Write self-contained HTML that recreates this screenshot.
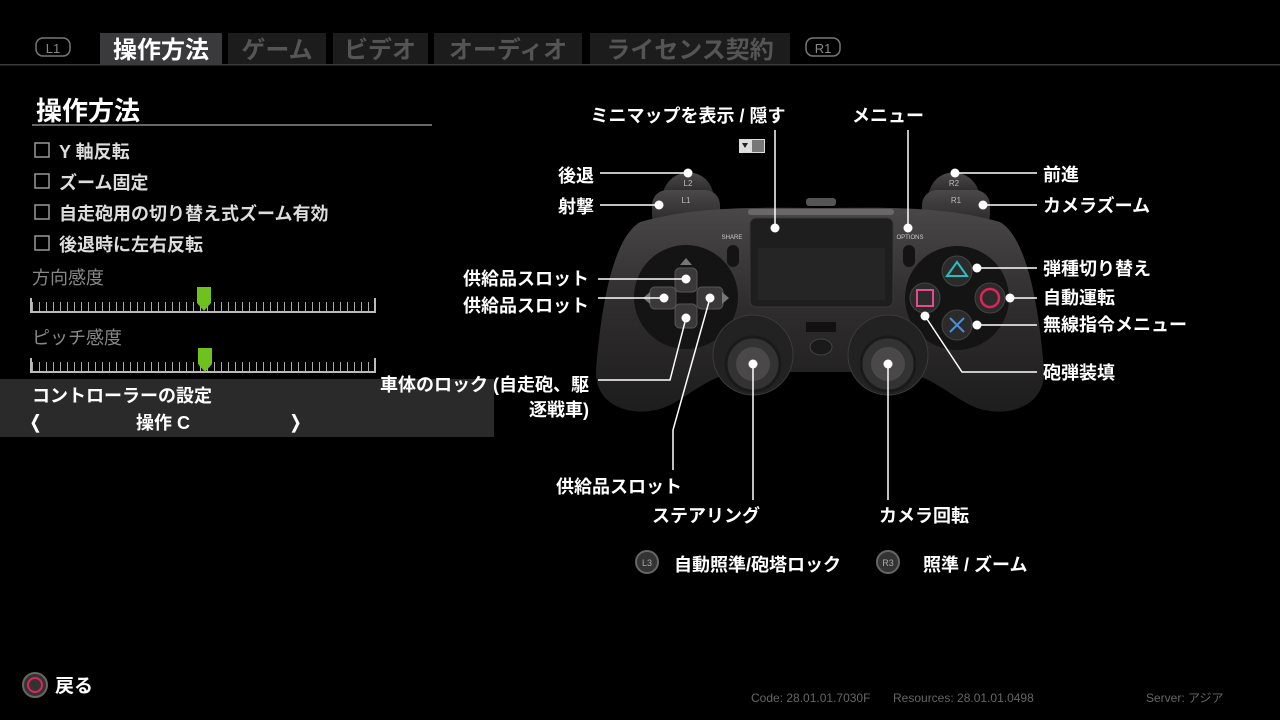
<!DOCTYPE html>
<html><head><meta charset="utf-8"><style>
html,body{margin:0;padding:0;background:#000;}
svg{display:block;}
text{font-family:"Liberation Sans","Noto Sans CJK JP",sans-serif;}
</style></head><body>
<svg width="1280" height="720" viewBox="0 0 1280 720" xmlns="http://www.w3.org/2000/svg">
<defs>
<pattern id="tick" x="32" y="0" width="7" height="20" patternUnits="userSpaceOnUse"><rect x="0" y="0" width="1" height="20" fill="#aaa"/></pattern>
<linearGradient id="body" x1="0" y1="0" x2="0" y2="1"><stop offset="0" stop-color="#4a4748"/><stop offset="0.5" stop-color="#2e2c2d"/><stop offset="1" stop-color="#1e1d1e"/></linearGradient>
<linearGradient id="trig" x1="0" y1="0" x2="0" y2="1"><stop offset="0" stop-color="#4a4849"/><stop offset="1" stop-color="#252425"/></linearGradient>
</defs>
<rect width="1280" height="720" fill="#000"/>
<!-- tabs -->
<rect x="0" y="64" width="1280" height="1.5" fill="#3a3a3a"/>
<rect x="36" y="38" width="34" height="18" rx="7" fill="none" stroke="#777" stroke-width="1.5"/>
<text x="53" y="53" font-size="13" fill="#888" text-anchor="middle">L1</text>
<rect x="100" y="33" width="122" height="31" fill="#3a3a3c"/>
<text x="161" y="58" font-size="24" font-weight="bold" fill="#fff" text-anchor="middle">操作方法</text>
<rect x="228" y="33" width="98" height="31" fill="#1c1c1c"/>
<text x="277" y="58" font-size="24" font-weight="bold" fill="#555" text-anchor="middle">ゲーム</text>
<rect x="333" y="33" width="95" height="31" fill="#1c1c1c"/>
<text x="380" y="58" font-size="24" font-weight="bold" fill="#555" text-anchor="middle">ビデオ</text>
<rect x="434" y="33" width="148" height="31" fill="#1c1c1c"/>
<text x="508" y="58" font-size="24" font-weight="bold" fill="#555" text-anchor="middle">オーディオ</text>
<rect x="590" y="33" width="200" height="31" fill="#1c1c1c"/>
<text x="690" y="58" font-size="24" font-weight="bold" fill="#555" text-anchor="middle">ライセンス契約</text>
<rect x="806" y="38" width="34" height="18" rx="7" fill="none" stroke="#777" stroke-width="1.5"/>
<text x="823" y="53" font-size="13" fill="#888" text-anchor="middle">R1</text>
<!-- left panel -->
<text x="36" y="120" font-size="26" font-weight="bold" fill="#fff">操作方法</text>
<rect x="32" y="124" width="400" height="2" fill="#666"/>
<g fill="none" stroke="#999" stroke-width="1.5">
<rect x="35" y="143" width="14" height="14"/><rect x="35" y="174" width="14" height="14"/><rect x="35" y="205" width="14" height="14"/><rect x="35" y="236" width="14" height="14"/>
</g>
<g font-size="18" font-weight="bold" fill="#ddd">
<text x="59" y="158">Y 軸反転</text>
<text x="59" y="189">ズーム固定</text>
<text x="59" y="220">自走砲用の切り替え式ズーム有効</text>
<text x="59" y="251">後退時に左右反転</text>
</g>
<text x="32" y="284" font-size="18" fill="#888">方向感度</text>
<text x="32" y="344" font-size="18" fill="#888">ピッチ感度</text>
<g>
<rect x="32" y="302" width="343" height="9" fill="url(#tick)"/>
<rect x="30" y="298" width="2" height="15" fill="#bbb"/><rect x="374" y="298" width="2" height="15" fill="#bbb"/>
<rect x="30" y="311" width="346" height="2" fill="#bbb"/>
<path d="M197 287 H211 V303 L204 311 L197 303 Z" fill="#6fc21e"/>
</g>
<g>
<rect x="32" y="362" width="343" height="9" fill="url(#tick)"/>
<rect x="30" y="358" width="2" height="15" fill="#bbb"/><rect x="374" y="358" width="2" height="15" fill="#bbb"/>
<rect x="30" y="371" width="346" height="2" fill="#bbb"/>
<path d="M198 348 H212 V364 L205 372 L198 364 Z" fill="#6fc21e"/>
</g>
<rect x="0" y="379" width="494" height="58" fill="#2a2a2a"/>
<text x="32" y="402" font-size="18" font-weight="bold" fill="#fff">コントローラーの設定</text>
<text x="28" y="428" font-size="18" font-weight="bold" fill="#fff">❬</text>
<text x="163" y="429" font-size="18" font-weight="bold" fill="#fff" text-anchor="middle">操作 C</text>
<text x="288" y="428" font-size="18" font-weight="bold" fill="#fff">❭</text>
<!-- controller -->
<path d="M662 198 C665 165,711 163,714 198 Z" fill="url(#trig)"/>
<path d="M928 198 C931 163,977 165,980 198 Z" fill="url(#trig)"/>
<rect x="652" y="190" width="68" height="40" rx="15" fill="url(#trig)"/>
<rect x="922" y="190" width="68" height="40" rx="15" fill="url(#trig)"/>
<text x="688" y="186" font-size="8" fill="#bbb" text-anchor="middle">L2</text>
<text x="686" y="203" font-size="8" fill="#bbb" text-anchor="middle">L1</text>
<text x="954" y="186" font-size="8" fill="#bbb" text-anchor="middle">R2</text>
<text x="956" y="203" font-size="8" fill="#bbb" text-anchor="middle">R1</text>
<path d="M640 222 C700 205,760 208,820 208 C880 208,940 205,1000 222 C1030 240,1040 320,1044 370 C1046 410,1000 420,970 405 C945 392,930 375,900 372 L740 372 C710 375,695 392,670 405 C640 420,594 410,596 370 C600 320,610 240,640 222 Z" fill="url(#body)"/>
<rect x="806" y="198" width="30" height="8" rx="3" fill="#555"/>
<rect x="748" y="209" width="146" height="6" rx="3" fill="#6a6869"/>
<rect x="750" y="218" width="143" height="89" rx="6" fill="#1f1e1f" stroke="#3a3839"/>
<rect x="758" y="248" width="127" height="52" fill="#2a2829" opacity="0.7"/>
<text x="732" y="239" font-size="6" fill="#ccc" text-anchor="middle">SHARE</text>
<text x="910" y="239" font-size="6" fill="#ccc" text-anchor="middle">OPTIONS</text>
<rect x="727" y="245" width="12" height="22" rx="6" fill="#141414"/>
<rect x="903" y="245" width="12" height="22" rx="6" fill="#141414"/>
<circle cx="686" cy="297" r="52" fill="#151415"/>
<circle cx="957" cy="298" r="52" fill="#151415"/>
<g fill="#3a3839" stroke="#555" stroke-width="1">
<rect x="675" y="268" width="22" height="24" rx="5"/>
<rect x="675" y="304" width="22" height="24" rx="5"/>
<rect x="650" y="287" width="26" height="22" rx="5"/>
<rect x="697" y="287" width="26" height="22" rx="5"/>
</g>
<path d="M680 265 L686 258 L692 265Z M643 298 L650 292 L650 304Z M729 298 L722 292 L722 304Z" fill="#777"/>
<g fill="#2c2b2c" stroke="#444">
<circle cx="957" cy="271" r="15"/><circle cx="957" cy="325" r="15"/><circle cx="925" cy="298" r="15"/><circle cx="990" cy="298" r="15"/>
</g>
<path d="M947 276 L957 262 L967 276Z" fill="none" stroke="#27c0c0" stroke-width="2"/>
<circle cx="990" cy="298" r="9" fill="none" stroke="#e0245a" stroke-width="2.5"/>
<rect x="917" y="290" width="16" height="16" fill="none" stroke="#e54c8e" stroke-width="2"/>
<path d="M950 318 L964 332 M964 318 L950 332" stroke="#4a8fd8" stroke-width="2"/>
<circle cx="753" cy="355" r="40" fill="#222" stroke="#3c3a3b"/>
<circle cx="888" cy="355" r="40" fill="#222" stroke="#3c3a3b"/>
<circle cx="753" cy="364" r="27" fill="#333" stroke="#1a1a1a" stroke-width="3"/>
<circle cx="888" cy="364" r="27" fill="#333" stroke="#1a1a1a" stroke-width="3"/>
<circle cx="753" cy="364" r="17" fill="#4a4849"/>
<circle cx="888" cy="364" r="17" fill="#4a4849"/>
<rect x="806" y="322" width="30" height="10" fill="#111"/>
<ellipse cx="821" cy="347" rx="11" ry="8" fill="#1a1a1a" stroke="#444"/>
<!-- connectors -->
<g stroke="#fff" stroke-width="1.5" fill="none">
<path d="M600 173 H688"/><path d="M600 205 H659"/>
<path d="M955 173 H1037"/><path d="M983 205 H1037"/>
<path d="M977 268 H1037"/><path d="M1010 298 H1037"/><path d="M977 325 H1037"/>
<path d="M925 316 L962 372 H1037"/>
<path d="M598 279 H686"/><path d="M598 298 H664"/>
<path d="M598 380 H670 L686 318"/>
<path d="M710 298 L673 430 V470"/>
<path d="M753 364 V500"/><path d="M888 364 V500"/>
<path d="M775 130 V228"/><path d="M908 130 V228"/>
</g>
<g fill="#fff">
<circle cx="688" cy="173" r="4.5"/><circle cx="659" cy="205" r="4.5"/><circle cx="955" cy="173" r="4.5"/><circle cx="983" cy="205" r="4.5"/>
<circle cx="977" cy="268" r="4.5"/><circle cx="1010" cy="298" r="4.5"/><circle cx="977" cy="325" r="4.5"/><circle cx="925" cy="316" r="4.5"/>
<circle cx="686" cy="279" r="4.5"/><circle cx="664" cy="298" r="4.5"/><circle cx="710" cy="298" r="4.5"/><circle cx="686" cy="318" r="4.5"/>
<circle cx="753" cy="364" r="4.5"/><circle cx="888" cy="364" r="4.5"/><circle cx="775" cy="228" r="4.5"/><circle cx="908" cy="228" r="4.5"/>
</g>
<rect x="739" y="139" width="26" height="14" fill="#ddd"/><rect x="752" y="140" width="12" height="12" fill="#777"/>
<path d="M742 143 L748 143 L745 148Z" fill="#222"/>
<!-- labels -->
<g font-size="18" font-weight="bold" fill="#fff">
<text x="688" y="122" text-anchor="middle">ミニマップを表示 / 隠す</text>
<text x="888" y="122" text-anchor="middle">メニュー</text>
<text x="594" y="182" text-anchor="end">後退</text>
<text x="594" y="213" text-anchor="end">射撃</text>
<text x="1043" y="181">前進</text>
<text x="1043" y="212">カメラズーム</text>
<text x="1043" y="275">弾種切り替え</text>
<text x="1043" y="304">自動運転</text>
<text x="1043" y="331">無線指令メニュー</text>
<text x="1043" y="379">砲弾装填</text>
<text x="589" y="285" text-anchor="end">供給品スロット</text>
<text x="589" y="312" text-anchor="end">供給品スロット</text>
<text x="589" y="391" text-anchor="end">車体のロック (自走砲、駆</text>
<text x="589" y="416" text-anchor="end">逐戦車)</text>
<text x="682" y="493" text-anchor="end">供給品スロット</text>
<text x="706" y="522" text-anchor="middle">ステアリング</text>
<text x="924" y="522" text-anchor="middle">カメラ回転</text>
<text x="674" y="571">自動照準/砲塔ロック</text>
<text x="923" y="571">照準 / ズーム</text>
</g>
<circle cx="647" cy="562" r="11" fill="#333" stroke="#666" stroke-width="2"/>
<text x="647" y="566" font-size="9" fill="#aaa" text-anchor="middle">L3</text>
<circle cx="888" cy="562" r="11" fill="#333" stroke="#666" stroke-width="2"/>
<text x="888" y="566" font-size="9" fill="#aaa" text-anchor="middle">R3</text>
<!-- footer -->
<circle cx="35" cy="685" r="12" fill="#333" stroke="#666" stroke-width="2"/>
<circle cx="35" cy="685" r="7" fill="none" stroke="#e0245a" stroke-width="2"/>
<text x="55" y="692" font-size="19" font-weight="bold" fill="#fff">戻る</text>
<g font-size="12" fill="#666">
<text x="751" y="702">Code: 28.01.01.7030F</text>
<text x="893" y="702">Resources: 28.01.01.0498</text>
<text x="1146" y="702">Server:  アジア</text>
</g>
</svg>
</body></html>
